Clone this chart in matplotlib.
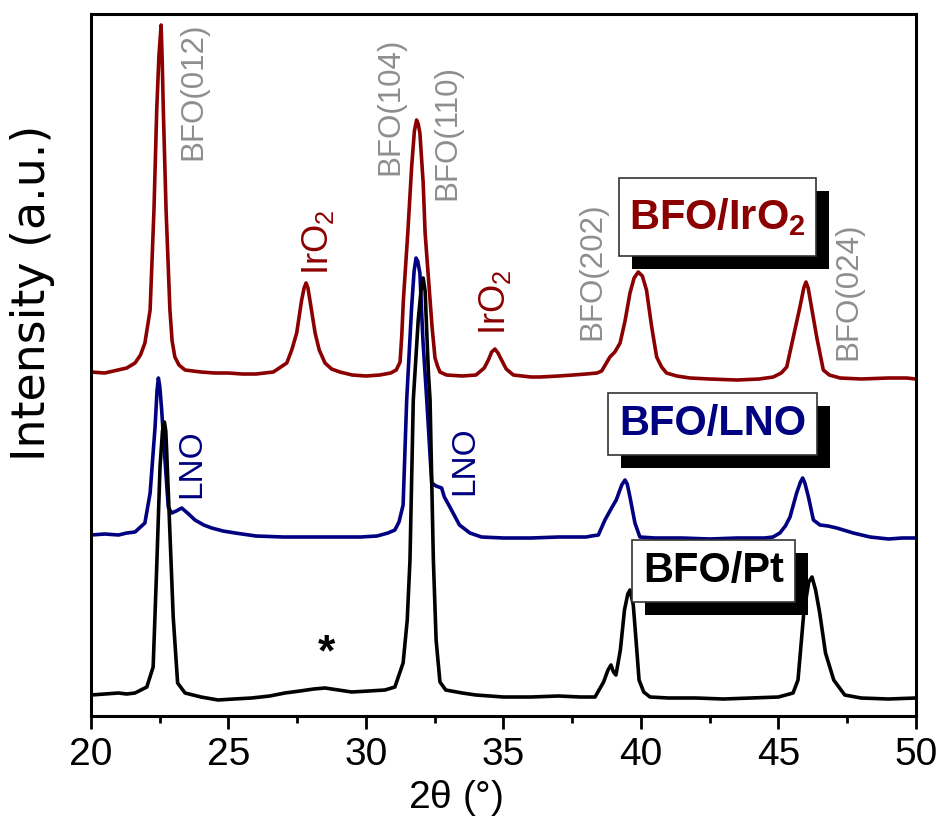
import matplotlib
matplotlib.use("Agg")
import matplotlib.pyplot as plt
from matplotlib.patches import Rectangle
from matplotlib.transforms import IdentityTransform

plt.rcParams['font.family'] = ['Liberation Sans', 'DejaVu Sans']
plt.rcParams['mathtext.fontset'] = 'custom'
plt.rcParams['mathtext.rm'] = 'Liberation Sans'
plt.rcParams['mathtext.bf'] = 'Liberation Sans:bold'

# XRD patterns (2theta in degrees, intensity in a.u., offset stacked)
tt_iro2 = [20.0, 20.5, 20.98, 21.3, 21.6, 21.8, 21.96, 22.15, 22.29, 22.39, 22.47, 22.55, 22.59,
           22.63, 22.73, 22.87, 22.95, 23.05, 23.2, 23.42, 24.0, 24.5, 25.0, 25.5, 26.0, 26.63,
           27.12, 27.3, 27.48, 27.66, 27.75, 27.82, 27.89, 27.96, 28.15, 28.3, 28.51, 28.75, 29.05,
           29.5, 30.0, 30.5, 30.9, 31.1, 31.24, 31.3, 31.36, 31.52, 31.66, 31.76, 31.84, 31.9,
           31.96, 32.08, 32.15, 32.33, 32.4, 32.51, 32.6, 32.69, 32.93, 33.5, 34.0, 34.3, 34.45,
           34.57, 34.69, 34.8, 34.93, 35.1, 35.36, 36.0, 36.33, 37.0, 37.54, 38.0, 38.4, 38.57,
           38.87, 39.05, 39.24, 39.42, 39.6, 39.75, 39.9, 40.05, 40.2, 40.39, 40.57, 40.75, 40.93,
           41.3, 41.78, 42.5, 43.5, 44.3, 44.81, 45.1, 45.3, 45.54, 45.78, 45.92, 46.0, 46.08,
           46.2, 46.39, 46.63, 46.85, 47.24, 48.0, 49.0, 49.66, 50.0]
int_iro2 = [344, 343, 346, 348, 353, 361, 373, 406, 506, 606, 660, 691, 655,
            606, 506, 406, 375, 359, 351, 346, 344, 343, 343, 342, 342, 344,
            353, 366, 383, 416, 428, 433, 428, 416, 383, 366, 353, 347, 344,
            341, 340, 341, 343, 346, 354, 380, 416, 483, 549, 585, 596, 592,
            583, 533, 483, 416, 390, 358, 350, 344, 341, 340, 341, 348, 356,
            364, 367, 363, 356, 347, 341, 339, 339, 340, 341, 342, 343, 345,
            359, 364, 373, 395, 423, 438, 444, 440, 426, 389, 359, 349, 343,
            340, 338, 337, 336, 337, 339, 343, 349, 379, 409, 428, 434, 428,
            409, 379, 346, 341, 338, 337, 338, 338, 337]

tt_lno = [20.0, 20.5, 21.0, 21.3, 21.6, 21.96, 22.15, 22.33, 22.4, 22.45, 22.5, 22.57, 22.69,
          22.81, 22.93, 23.1, 23.3, 23.55, 23.78, 24.1, 24.39, 24.8, 25.24, 26.0, 27.0, 28.0,
          29.0, 29.8, 30.4, 30.8, 31.05, 31.2, 31.35, 31.48, 31.66, 31.75, 31.82, 31.88, 31.96,
          32.07, 32.21, 32.39, 32.55, 32.75, 32.85, 33.05, 33.4, 33.78, 34.2, 35.0, 36.0, 37.0,
          38.0, 38.2, 38.45, 38.69, 38.93, 39.1, 39.3, 39.42, 39.5, 39.6, 39.78, 39.96, 40.5,
          41.5, 42.5, 43.5, 44.5, 44.8, 45.05, 45.25, 45.42, 45.66, 45.8, 45.88, 45.96, 46.09,
          46.27, 46.51, 46.8, 47.12, 47.72, 48.33, 49.0, 49.5, 50.0]
int_lno = [181, 182, 181, 183, 184, 193, 223, 289, 325, 338, 330, 306, 256,
           209, 203, 205, 208, 202, 196, 191, 188, 185, 183, 180, 179, 179,
           179, 179, 180, 183, 186, 194, 211, 316, 409, 445, 458, 455, 443,
           376, 316, 233, 230, 228, 219, 209, 191, 183, 179, 178, 178, 179,
           179, 180, 181, 196, 208, 216, 231, 236, 232, 219, 193, 179, 178,
           178, 177, 178, 178, 179, 183, 190, 199, 223, 234, 238, 233, 219,
           196, 191, 190, 188, 183, 179, 177, 178, 178]

tt_pt = [20.0, 20.5, 21.0, 21.3, 21.6, 22.03, 22.26, 22.39, 22.51, 22.6, 22.67, 22.72, 22.75,
         22.87, 22.99, 23.15, 23.42, 24.0, 24.62, 25.2, 25.84, 26.5, 27.05, 27.6, 28.1, 28.51,
         29.0, 29.48, 30.1, 30.69, 31.05, 31.35, 31.5, 31.6, 31.72, 31.9, 32.0, 32.08, 32.15,
         32.27, 32.33, 32.45, 32.55, 32.69, 32.9, 33.5, 34.0, 35.0, 36.0, 37.0, 37.8, 38.33,
         38.64, 38.8, 38.91, 39.0, 39.09, 39.25, 39.4, 39.52, 39.6, 39.72, 39.82, 39.93, 40.1,
         40.33, 41.0, 42.0, 43.0, 44.0, 45.0, 45.53, 45.71, 45.92, 46.1, 46.22, 46.35, 46.5,
         46.71, 47.01, 47.41, 48.0, 49.0, 50.0]
int_pt = [21, 22, 23, 22, 23, 29, 49, 149, 249, 285, 294, 285, 266,
          183, 99, 33, 23, 19, 16, 17, 18, 20, 23, 25, 27, 28,
          26, 24, 25, 26, 29, 53, 96, 156, 316, 396, 425, 438, 425,
          343, 316, 156, 76, 34, 26, 23, 21, 19, 19, 20, 19, 19,
          34, 46, 51, 44, 41, 66, 106, 122, 126, 111, 76, 36, 24,
          19, 18, 18, 17, 18, 19, 23, 36, 103, 134, 139, 126, 103,
          63, 36, 21, 18, 17, 18]

red = '#8b0000'
blue = '#000080'
gray = '#8e8e8e'

# peak annotations: (text, 2theta, height, colour)
peak_labels = [
    ('BFO(012)', 23.71, 556, gray),
    ('BFO(104)', 30.87, 541, gray),
    ('BFO(110)', 32.95, 516, gray),
    ('BFO(202)', 38.22, 376, gray),
    ('BFO(024)', 47.53, 356, gray),
    (r'IrO$_\mathregular{2}$', 28.25, 441, red),
    (r'IrO$_\mathregular{2}$', 34.69, 381, red),
    ('LNO', 23.67, 218, blue),
    ('LNO', 33.6, 221, blue),
]

# sample name boxes: (text, 2theta, height, colour)
sample_boxes = [
    (r'BFO/IrO$_\mathbf{2}$', 42.8, 499, red),
    ('BFO/LNO', 42.6, 292, blue),
    ('BFO/Pt', 42.64, 145, 'black'),
]
box_pads = [(10, 18), (11, 11), (11, 11)]   # pixels, x and y
shadow_off = 13

fig = plt.figure(figsize=(9.41, 8.39), dpi=100)
ax = fig.add_axes([0.0967, 0.1466, 0.8767, 0.8367])

ax.plot(tt_iro2, int_iro2, color=red, lw=2.6)
ax.plot(tt_lno, int_lno, color=blue, lw=2.6)
ax.plot(tt_pt, int_pt, color='black', lw=2.6)

for txt, x, y, c in peak_labels:
    if txt.startswith('BFO'):
        size = 22.5
    elif txt.startswith('LNO'):
        size = 24
    else:
        size = 26
    ax.text(x, y, txt, rotation=90, ha='center', va='bottom', color=c, fontsize=size)

ax.text(28.58, 62, '*', ha='center', va='center', fontsize=32, fontweight='bold')

box_texts = []
for txt, x, y, c in sample_boxes:
    t = ax.text(x, y, txt, ha='center', va='center', fontsize=30, fontweight='bold',
                color=c, zorder=6)
    box_texts.append(t)

ax.set_xlim(20, 50)
ax.set_ylim(0, 702)
ax.set_xticks([20, 25, 30, 35, 40, 45, 50])
ax.set_xticks([22.5, 27.5, 32.5, 37.5, 42.5, 47.5], minor=True)
ax.set_yticks([])
ax.tick_params(axis='x', which='major', direction='out', length=9, width=2, labelsize=28, pad=6)
ax.tick_params(axis='x', which='minor', direction='out', length=5, width=2)
for sp in ax.spines.values():
    sp.set_linewidth(2.2)

ax.set_xlabel(r'2$\mathregular{\theta}$ (°)', fontsize=28)
ax.xaxis.set_label_coords(0.442, -0.088)
ax.xaxis.label.set_va('top')
ax.set_ylabel('Intensity (a.u.)', fontsize=33, family='DejaVu Sans')
ax.yaxis.set_label_coords(-0.044, 0.603)

# white framed boxes with a solid black drop shadow behind the sample names
fig.canvas.draw()
renderer = fig.canvas.get_renderer()
for t, (px, py) in zip(box_texts, box_pads):
    bb = t.get_window_extent(renderer)
    x0, y0 = bb.x0 - px, bb.y0 - py
    w, h = bb.width + 2 * px, bb.height + 2 * py
    ax.add_patch(Rectangle((x0 + shadow_off, y0 - shadow_off), w, h, transform=IdentityTransform(),
                           fc='black', ec='black', lw=0, zorder=4, clip_on=False))
    ax.add_patch(Rectangle((x0, y0), w, h, transform=IdentityTransform(),
                           fc='white', ec='#333333', lw=1.2, zorder=5, clip_on=False))

fig.savefig('out.png', dpi=100)
